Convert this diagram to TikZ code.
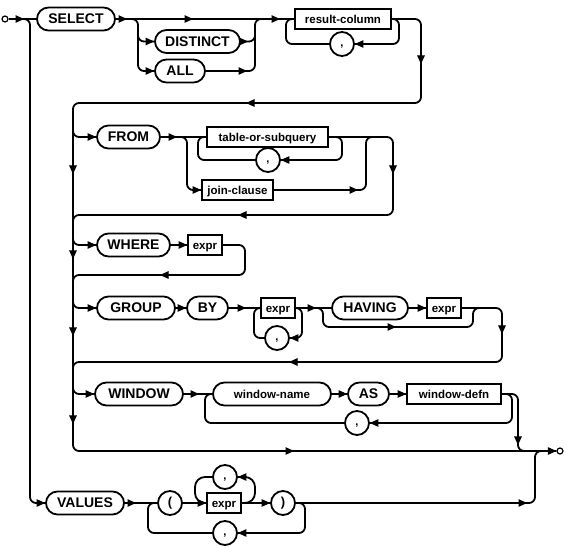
\documentclass[tikz,border=0pt]{standalone}
\usepackage{fontspec}
\setmainfont{Liberation Sans}
\usetikzlibrary{shapes.misc,arrows.meta}
\newcommand\railR[2]{\draw[arrowst] ({#1-8},#2) -- (#1,#2);}
\newcommand\railL[2]{\draw[arrowst] ({#1+8},#2) -- (#1,#2);}
\newcommand\railD[2]{\draw[arrowst] (#1,{#2-8}) -- (#1,#2);}
\newcommand\tipin[1]{\draw[arrowst] ([xshift=-8pt]#1) -- (#1);}
\newcommand\tipback[1]{\draw[arrowst] ([xshift=8pt]#1) -- (#1);}
\begin{document}
\begin{tikzpicture}[x=1pt,y=-1pt,line width=1.8pt,
  kw/.style={draw, rounded rectangle, minimum height=23pt, inner xsep=0pt, inner ysep=0pt, text height=10pt, text depth=0pt, font=\fontsize{14}{14}\selectfont\bfseries},
  nt/.style={draw, rectangle, minimum height=20pt, inner xsep=0pt, inner ysep=0pt, text height=10.5pt, text depth=0.5pt, font=\fontsize{11.5}{11.5}\selectfont\bfseries},
  tm/.style={draw, circle, minimum size=24pt, inner sep=0pt, font=\fontsize{13}{13}\selectfont\bfseries},
  commast/.style={draw, circle, minimum size=24pt, inner sep=0pt, text height=5pt, text depth=0pt, font=\fontsize{11}{11}\selectfont\bfseries},
  endpt/.style={draw, circle, line width=1.2pt, minimum size=6pt, inner sep=0pt},
  rail/.style={rounded corners=6pt},
  arrowst/.style={-{Triangle[length=8.5pt,width=7.5pt]}, line width=1pt},
]
\useasboundingbox (0,0) rectangle (566,548);
% ---- nodes
\node[endpt] (start) at (5,19) {};
\node[endpt] (end) at (560,451) {};
\node[kw, minimum width=78pt] (select) at (76,19) {SELECT};
\node[kw, minimum width=85pt] (distinct) at (197.5,41.5) {DISTINCT};
\node[kw, minimum width=50pt] (all) at (180,71) {ALL};
\node[nt, minimum width=96pt] (rescol) at (343,19) {result-column};
\node[commast] (c1) at (342,44) {,};
\node[kw, minimum width=63pt] (from) at (128.5,137) {FROM};
\node[nt, minimum width=121pt] (tos) at (267.5,137) {table-or-subquery};
\node[commast] (c2) at (268,160) {,};
\node[nt, minimum width=71pt] (jc) at (237.5,190) {join-clause};
\node[kw, minimum width=73pt] (where) at (133.5,245) {WHERE};
\node[nt, minimum width=34pt] (expra) at (205,245) {expr};
\node[kw, minimum width=78pt] (group) at (136,308) {GROUP};
\node[kw, minimum width=41pt] (by) at (207.5,308) {BY};
\node[nt, minimum width=34pt] (exprb) at (278,308) {expr};
\node[commast] (c3) at (277,338) {,};
\node[kw, minimum width=76pt] (having) at (370,308) {HAVING};
\node[nt, minimum width=34pt] (exprc) at (444,308) {expr};
\node[kw, minimum width=88pt] (window) at (139,394) {WINDOW};
\node[kw, minimum width=118pt, text height=10.5pt, text depth=0.5pt, font=\fontsize{11.5}{11.5}\selectfont\bfseries] (wname) at (272,394) {window-name};
\node[kw, minimum width=41pt] (as) at (368.5,394) {AS};
\node[nt, minimum width=94pt] (wdefn) at (454,394) {window-defn};
\node[commast] (c4) at (357,423) {,};
\node[kw, minimum width=78pt] (values) at (85,503) {VALUES};
\node[tm] (lp) at (170,503) {(};
\node[nt, minimum width=34pt] (exprd) at (224,503) {expr};
\node[tm] (rp) at (283,503) {)};
\node[commast] (c5) at (225,477) {,};
\node[commast] (c6) at (225,533) {,};
% ---- row 1
\draw (start.east) -- (select.west); \railR{24}{19}
\draw[rail] (22,19) -- (30,19) -- (30,503) -- (values.west); \tipin{values.west}
\draw (select.east) -- (rescol.west);
\railR{127}{19} \railR{193}{19} \railR{280}{19}
\draw[rail] (131,19) -- (138,19) -- (138,71) -- (all.west);
\draw[rail] (138,30) -- (138,41.5) -- (distinct.west);
\tipin{distinct.west} \tipin{all.west}
\draw[rail] (all.east) -- (255,71) -- (255,19) -- (265,19);
\draw[rail] (distinct.east) -- (255,41.5) -- (255,30);
\railR{248}{41.5} \railR{247}{71}
\draw[rail] (rescol.east) -- (399,19) -- (399,44) -- (c1.east); \tipback{c1.east}
\draw[rail] (c1.west) -- (286,44) -- (286,19) -- (rescol.west);
% ---- main rail
\draw[rail] (rescol.east) -- (421,19) -- (421,103) -- (73,103) -- (73,451) -- (end.west);
\railD{421}{64} \railL{246}{103}
\railD{73}{174} \railD{73}{259} \railD{73}{336} \railD{73}{424}
\railR{294}{451} \tipin{end.west}
% ---- FROM
\draw[rail] (73,125) -- (73,137) -- (from.west); \tipin{from.west}
\draw (from.east) -- (tos.west); \railR{177}{137}
\draw[rail] (181,137) -- (187,137) -- (187,190) -- (jc.west); \tipin{jc.west}
\draw[rail] (tos.east) -- (342,137) -- (342,160) -- (c2.east); \tipback{c2.east}
\draw[rail] (c2.west) -- (198,160) -- (198,137) -- (tos.west);
\draw[rail] (tos.east) -- (393,137) -- (393,215) -- (73,215) -- (73,225);
\railD{393}{174} \railL{238}{215}
\draw[rail] (jc.east) -- (366,190) -- (366,137) -- (376,137); \railR{358}{190}
% ---- WHERE
\draw[rail] (73,233) -- (73,245) -- (where.west); \tipin{where.west}
\draw (where.east) -- (expra.west); \tipin{expra.west}
\draw[rail] (expra.east) -- (245,245) -- (245,275) -- (73,275) -- (73,285);
\railL{160}{275}
% ---- GROUP BY
\draw[rail] (73,296) -- (73,308) -- (group.west); \tipin{group.west}
\draw (group.east) -- (by.west); \tipin{by.west}
\draw (by.east) -- (exprb.west); \railR{246}{308}
\draw[rail] (exprb.east) -- (302,308) -- (302,338) -- (c3.east); \tipback{c3.east}
\draw[rail] (c3.west) -- (254,338) -- (254,308) -- (exprb.west);
\draw (exprb.east) -- (having.west); \railR{316}{308}
\draw[rail] (317,308) -- (323,308) -- (323,327) -- (473,327) -- (473,308) -- (479,308);
\railR{396}{327}
\draw (having.east) -- (exprc.west); \tipin{exprc.west}
\draw[rail] (exprc.east) -- (502,308) -- (502,362) -- (73,362) -- (73,372);
\railD{502}{334} \railL{289}{362}
% ---- WINDOW
\draw[rail] (73,382) -- (73,394) -- (window.west); \tipin{window.west}
\draw (window.east) -- (wname.west); \railR{199}{394}
\draw (wname.east) -- (as.west); \tipin{as.west}
\draw (as.east) -- (wdefn.west); \tipin{wdefn.west}
\draw[rail] (wdefn.east) -- (512,394) -- (512,423) -- (c4.east); \tipback{c4.east}
\draw[rail] (c4.west) -- (205,423) -- (205,394) -- (wname.west);
\draw[rail] (wdefn.east) -- (518,394) -- (518,451) -- (528,451);
\railD{518}{445}
% ---- VALUES
\draw (values.east) -- (lp.west); \railR{136}{503}
\draw[rail] (rp.east) -- (305,503) -- (305,533) -- (c6.east); \tipback{c6.east}
\draw[rail] (c6.west) -- (148,533) -- (148,503) -- (lp.west);
\draw (lp.east) -- (exprd.west); \tipin{exprd.west}
\draw[rounded corners=10pt] (exprd.east) -- (255,503) -- (255,477) -- (c5.east); \tipback{c5.east}
\draw[rounded corners=10pt] (c5.west) -- (195,477) -- (195,503) -- (exprd.west);
\draw (exprd.east) -- (rp.west); \tipin{rp.west}
\draw[rail] (rp.east) -- (535,503) -- (535,451) -- (545,451);
\railR{527}{503}
\end{tikzpicture}
\end{document}
